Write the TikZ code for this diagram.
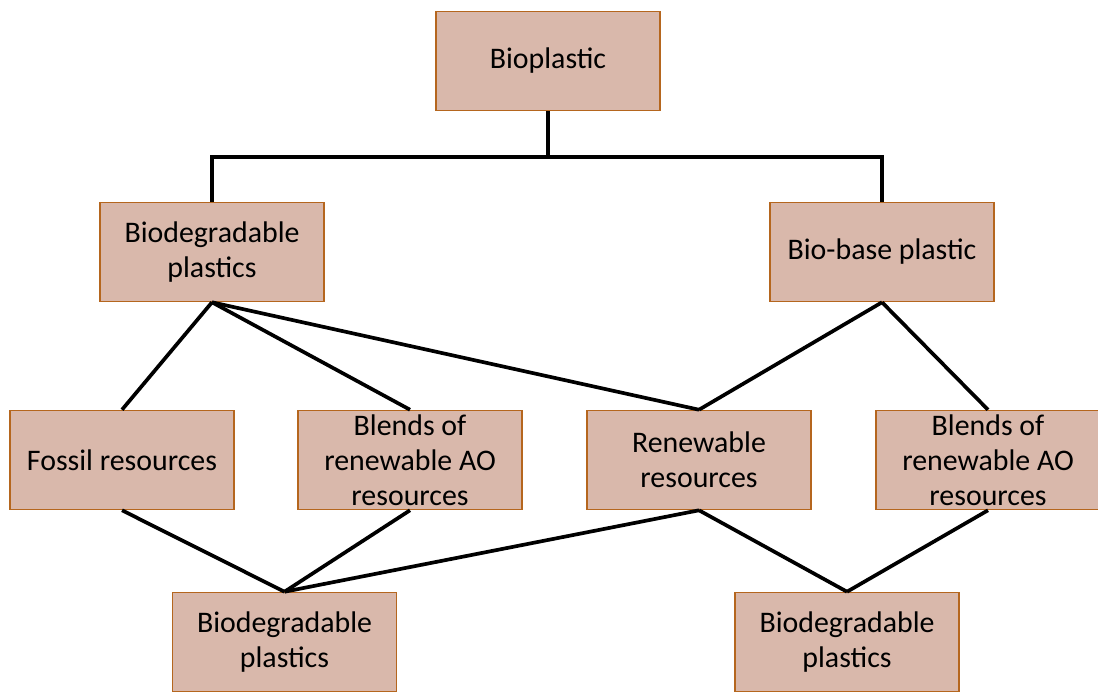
\documentclass[tikz,border=0pt]{standalone}
\usepackage{fontspec}
\setmainfont{Carlito}
\usepackage{tikz}
\usetikzlibrary{positioning,calc}
\usepackage{xcolor}
\definecolor{boxfill}{RGB}{217,184,171}
\definecolor{boxline}{RGB}{181,102,30}

\begin{document}
\begin{tikzpicture}[x=0.02cm,y=-0.02cm,
  cls/.style={draw=boxline,line width=0.9pt,fill=boxfill,minimum width=4.48cm,minimum height=1.98cm,
    align=center,inner sep=0pt,font=\fontsize{17}{20}\selectfont},
  link/.style={line width=2.1pt,black}]
  \useasboundingbox (0,0) rectangle (1098,691);
  \node[cls] (bio) at (548,61) {Bioplastic};
  \node[cls] (biodeg) at (212,252) {Biodegradable\\plastics};
  \node[cls] (biobase) at (882,252) {Bio-base plastic};
  \node[cls] (fossil) at (122,460) {Fossil resources};
  \node[cls] (blendl) at (410,460) {Blends of\\renewable AO\\resources};
  \node[cls] (renew) at (699,460) {Renewable\\resources};
  \node[cls] (blendr) at (988,460) {Blends of\\renewable AO\\resources};
  \node[cls] (degl) at (284.5,642) {Biodegradable\\plastics};
  \node[cls] (degr) at (847,642) {Biodegradable\\plastics};
  % tree from the top box
  \coordinate (split) at (548,157);
  \draw[link] (bio.south) -- (split);
  \draw[link] (biodeg.north) |- (split) -| (biobase.north);
  % sources
  \draw[link] (biodeg.south) -- (fossil.north);
  \draw[link] (biodeg.south) -- (blendl.north);
  \draw[link] (biodeg.south) -- (renew.north);
  \draw[link] (biobase.south) -- (renew.north);
  \draw[link] (biobase.south) -- (blendr.north);
  % products
  \draw[link] (fossil.south) -- (degl.north);
  \draw[link] (blendl.south) -- (degl.north);
  \draw[link] (renew.south) -- (degl.north);
  \draw[link] (renew.south) -- (degr.north);
  \draw[link] (blendr.south) -- (degr.north);
\end{tikzpicture}
\end{document}
